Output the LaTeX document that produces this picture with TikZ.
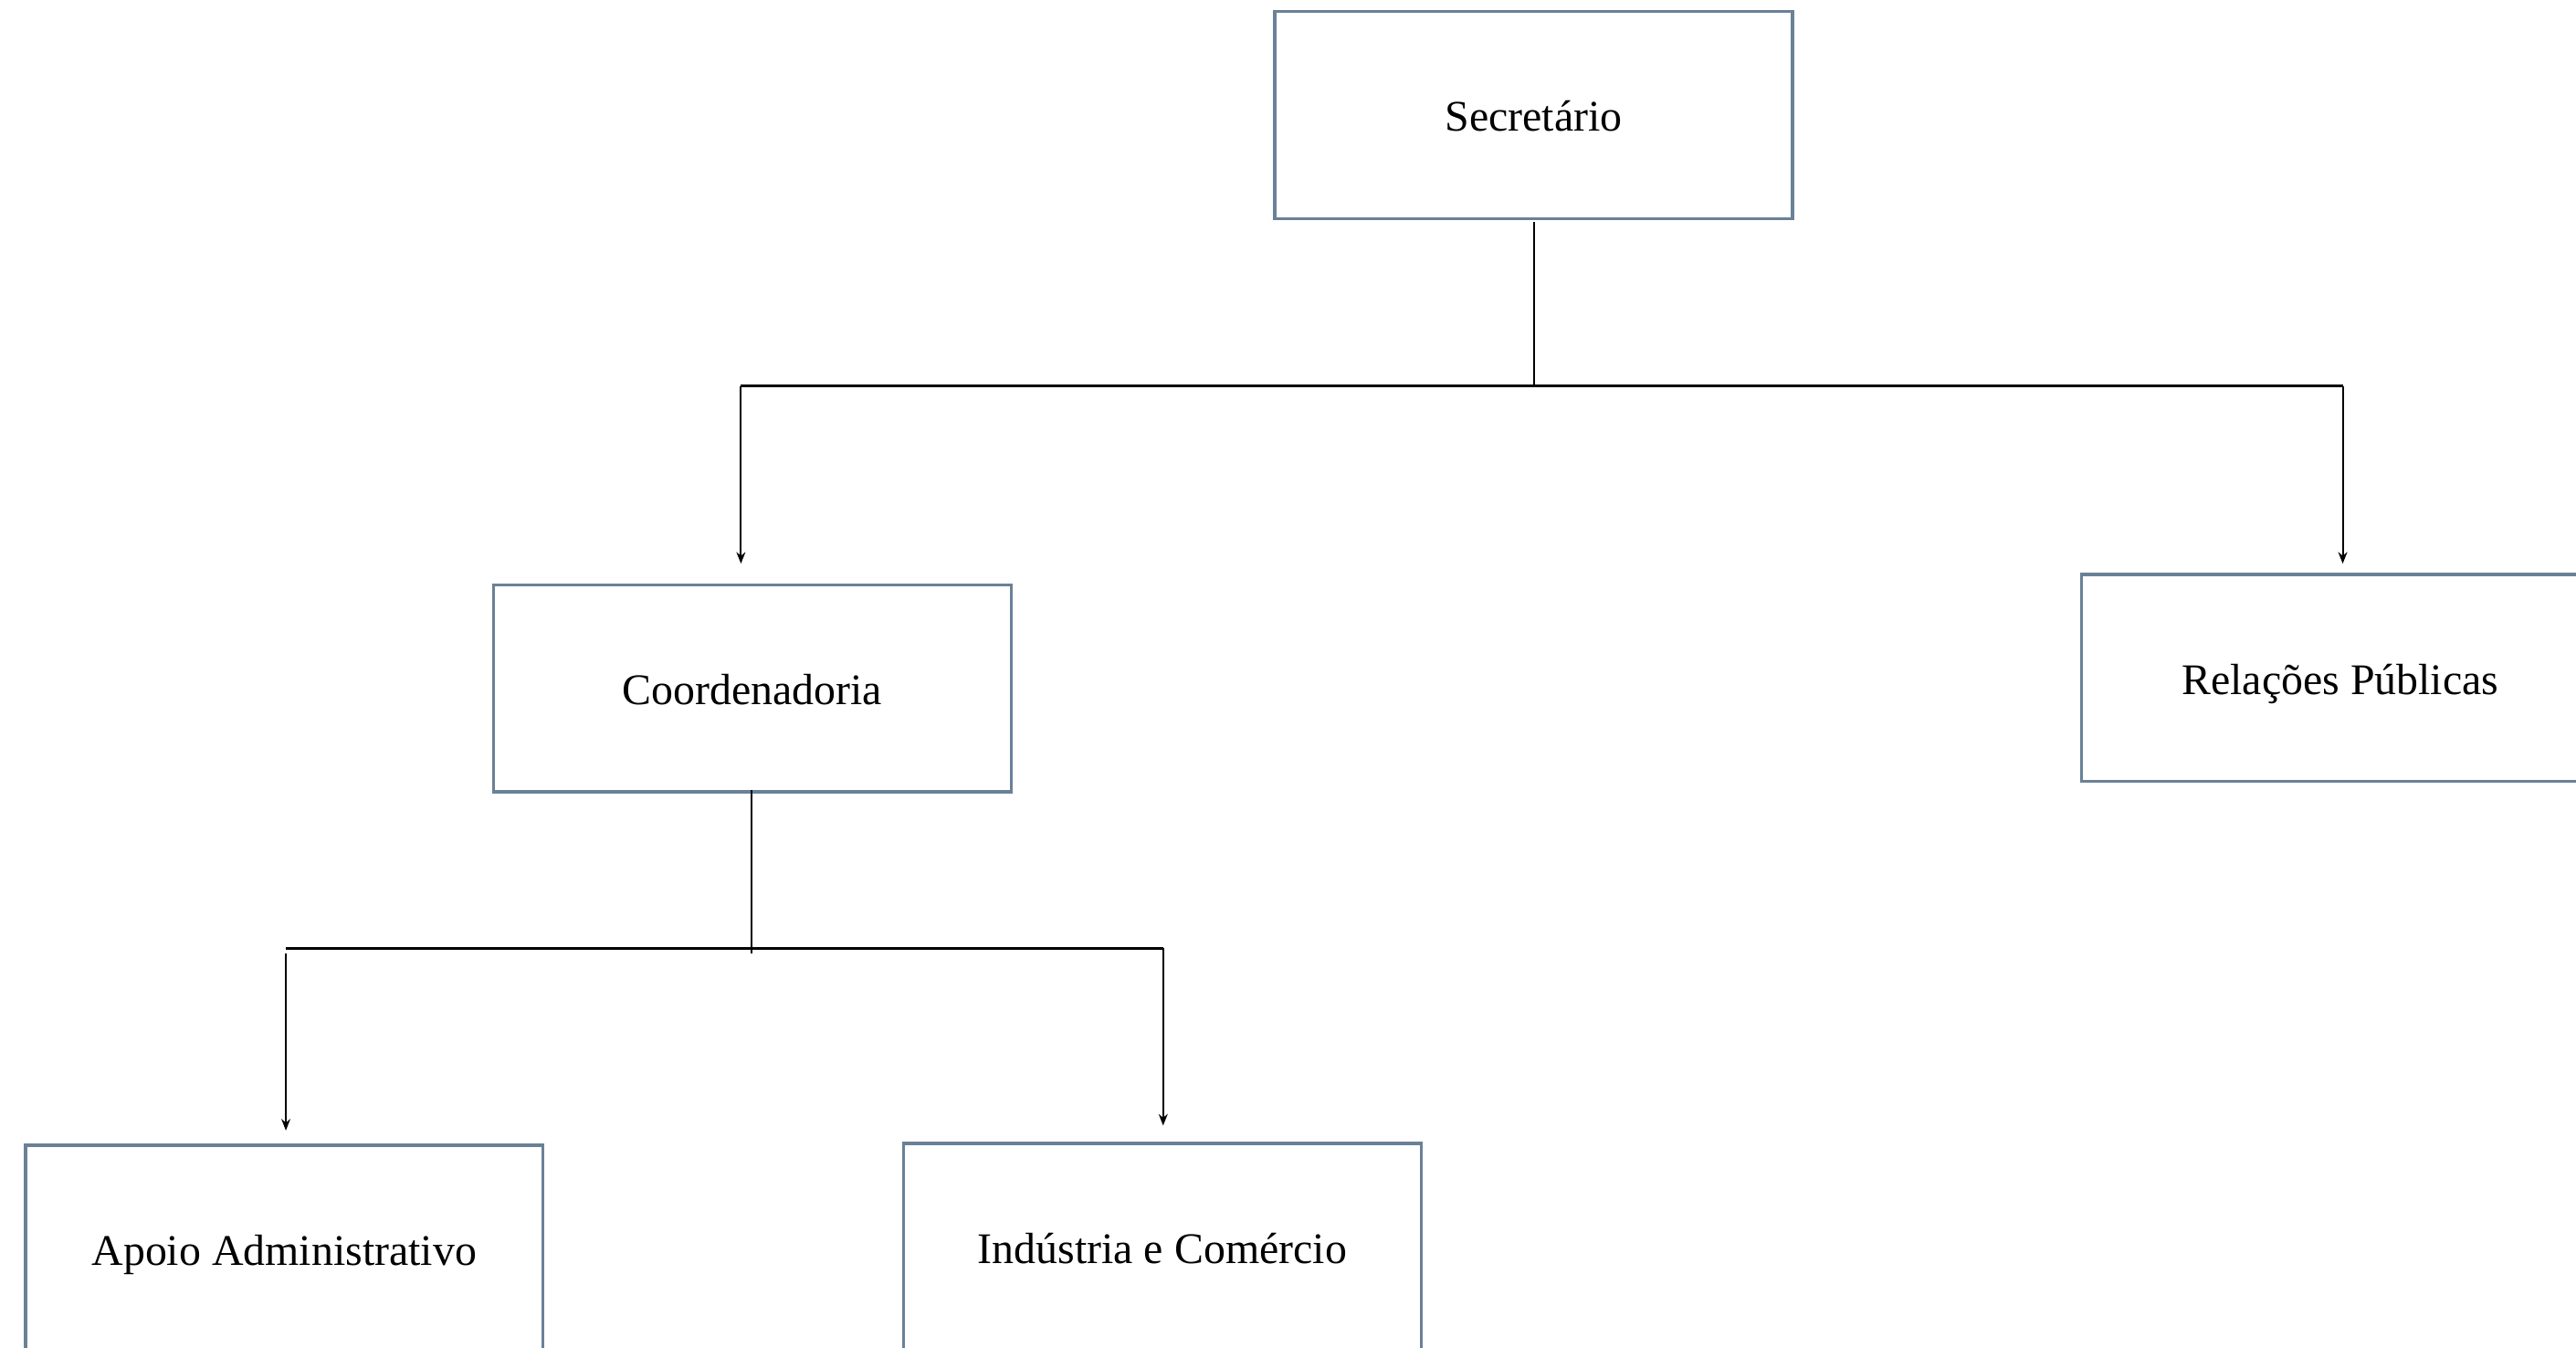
\documentclass[tikz,border=0pt]{standalone}
\usepackage{fontspec}
\setmainfont{Liberation Serif}
\usetikzlibrary{arrows.meta}
\definecolor{boxline}{HTML}{6A8197}
\begin{document}
\begin{tikzpicture}[x=1pt,y=-1pt,
  orgbox/.style={draw=boxline,line width=1.9pt,minimum width=315pt,minimum height=126pt,inner sep=0pt,text height=20pt,text depth=0pt,font=\fontsize{26.6}{30}\selectfont,fill=white},
  conn/.style={line width=1.1pt,black},
  bar/.style={line width=1.7pt,black},
  arr/.style={conn,-{Stealth[length=7pt,width=5.5pt]}}]
\useasboundingbox (0,0) rectangle (1568,820);
\clip (0,0) rectangle (1568,820);
\fill[white] (0,0) rectangle (1568,820);
\node[orgbox] (sec) at (933.5,70) {Secret\'ario};
\node[orgbox] (coord) at (458,419) {Coordenadoria};
\node[orgbox] (rp) at (1424.5,412.5) {Rela\c{c}\~oes P\'ublicas};
\node[orgbox] (apoio) at (173,760) {Apoio Administrativo};
\node[orgbox] (ind) at (707.5,759) {Ind\'ustria e Com\'ercio};
\coordinate (j1) at (934,235);
\coordinate (l1) at (451,235);
\coordinate (r1) at (1426,235);
\coordinate (l1e) at (451,343);
\coordinate (r1e) at (1426,343);
\draw[conn] (934,135) -- (j1);
\draw[bar] (l1) -- (r1);
\draw[arr] (l1) -- (l1e);
\draw[arr] (r1) -- (r1e);
\coordinate (j2) at (457.5,580);
\coordinate (l2) at (174,577);
\coordinate (r2) at (708,577);
\coordinate (l2e) at (174,688);
\coordinate (r2e) at (708,685);
\draw[conn] (457.5,481) -- (j2);
\draw[bar] (l2) -- (r2);
\draw[arr] (174,580) -- (l2e);
\draw[arr] (r2) -- (r2e);
\end{tikzpicture}
\end{document}
